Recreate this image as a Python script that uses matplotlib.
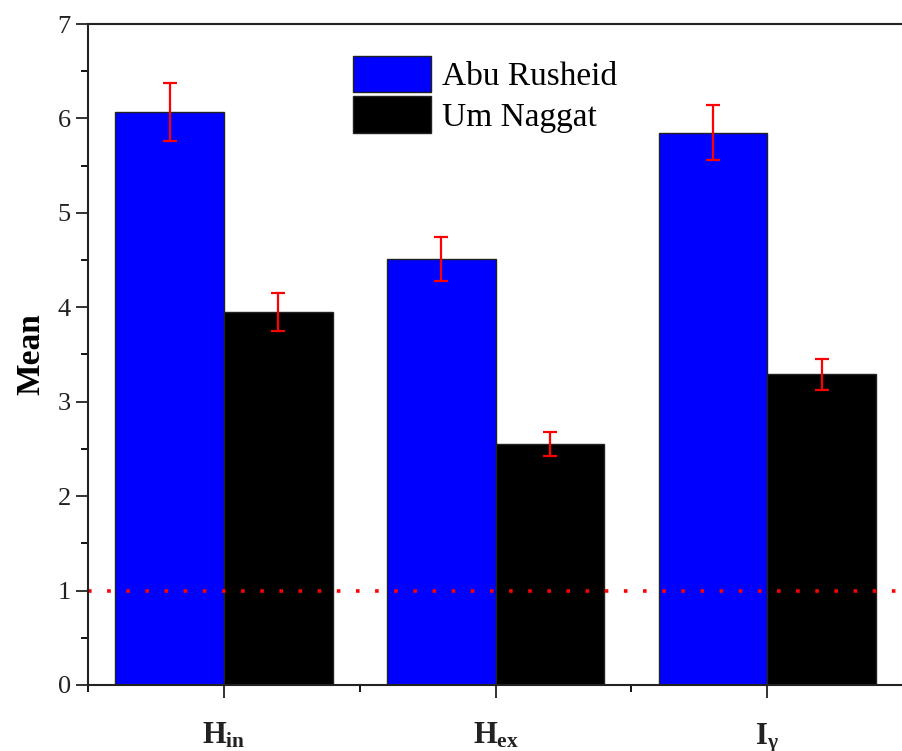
import numpy as np
import matplotlib
matplotlib.use("Agg")
import matplotlib.pyplot as plt
from matplotlib.ticker import MultipleLocator

plt.rcParams['font.family'] = ['Liberation Serif', 'DejaVu Serif']
plt.rcParams['mathtext.fontset'] = 'custom'
plt.rcParams['mathtext.rm'] = 'Liberation Serif'
plt.rcParams['mathtext.bf'] = 'Liberation Serif:bold'
plt.rcParams['mathtext.it'] = 'Liberation Serif:italic'

# hazard indices for the two sites
categories = [r'$\mathbf{H_{in}}$', r'$\mathbf{H_{ex}}$', r'$\mathbf{I}_{\mathbf{\gamma}}$']
abu_rusheid = [6.07, 4.51, 5.85]
abu_rusheid_err = [0.31, 0.23, 0.29]
um_naggat = [3.95, 2.55, 3.29]
um_naggat_err = [0.20, 0.13, 0.165]
limit = 1.0

fig = plt.figure(figsize=(9.03, 7.51), dpi=100)
ax = fig.add_axes([0.0975, 0.088, 0.9025, 0.880])

x = np.arange(1, len(categories) + 1)
w = 0.4
err_kw = dict(ecolor='red', elinewidth=1.6, capsize=5, capthick=1.6)
ax.bar(x - w / 2, abu_rusheid, w, yerr=abu_rusheid_err, color='#0000ff',
       edgecolor='#222222', linewidth=1, label='Abu Rusheid', error_kw=err_kw)
ax.bar(x + w / 2, um_naggat, w, yerr=um_naggat_err, color='black',
       edgecolor='#222222', linewidth=1, label='Um Naggat', error_kw=err_kw)

ax.axhline(limit, color='red', linestyle=(0, (1, 4.3)), linewidth=2.6)

ax.set_xlim(0.5, 3.485)
ax.set_ylim(0, 7)
ax.set_xticks(x)
ax.set_xticklabels(categories)
ax.set_xticks([0.5, 1.5, 2.5, 3.5], minor=True)
ax.yaxis.set_major_locator(MultipleLocator(1))
ax.yaxis.set_minor_locator(MultipleLocator(0.5))
ax.tick_params(axis='both', which='major', direction='out', length=9, width=1.3,
               labelsize=19, colors='#222222')
ax.tick_params(axis='x', which='major', pad=17, labelsize=22)
ax.tick_params(axis='both', which='minor', direction='out', length=5, width=1.3)

ax.spines['right'].set_visible(False)
for s in ['left', 'bottom', 'top']:
    ax.spines[s].set_linewidth(1.5)
    ax.spines[s].set_color('#222222')

ax.set_ylabel('Mean', fontsize=24, fontweight='bold', labelpad=8)

fig.legend(loc='upper left', bbox_to_anchor=(353 / 903, 1 - 56 / 751),
           frameon=False, fontsize=24, handlelength=2.34, handleheight=1.3,
           labelspacing=0.12, handletextpad=0.33, borderpad=0, borderaxespad=0)

fig.savefig('out.png', dpi=100)
